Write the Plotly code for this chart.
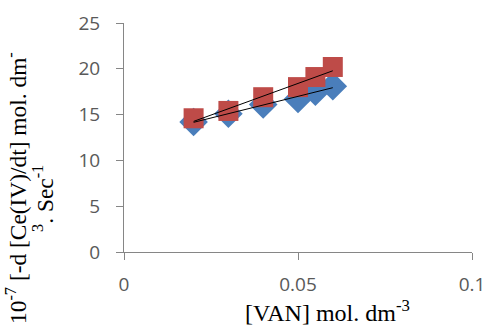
import numpy as np
import plotly.graph_objects as go

van = [0.02, 0.03, 0.04, 0.05, 0.055, 0.06]
rate_blue = [14.2, 15.1, 16.1, 16.7, 17.5, 18.1]
rate_red = [14.6, 15.4, 16.9, 18.0, 19.1, 20.2]
x_ticks = [0, 0.05, 0.1]
y_ticks = [0, 5, 10, 15, 20, 25]

fig = go.Figure()
fig.add_trace(go.Scatter(x=van, y=rate_blue, mode="markers",
                         marker=dict(symbol="diamond", size=22, color="#4A7EBB"),
                         showlegend=False))
fig.add_trace(go.Scatter(x=van, y=rate_red, mode="markers",
                         marker=dict(symbol="square", size=20, color="#BE4B48"),
                         showlegend=False))
for ys in (rate_blue, rate_red):
    m, c = np.polyfit(van, ys, 1)
    xs = [min(van), max(van)]
    fig.add_trace(go.Scatter(x=xs, y=[m * v + c for v in xs], mode="lines",
                             line=dict(color="black", width=1), showlegend=False))

axis_common = dict(showgrid=False, zeroline=False, showline=True, linecolor="#868686",
                   linewidth=1, ticks="outside", ticklen=7, tickcolor="#868686",
                   automargin=False,
                   tickfont=dict(family="Open Sans", size=19, color="#595959"))
fig.update_xaxes(range=[0, 0.1], tickvals=x_ticks, ticktext=["0", "0.05", "0.1"],
                 ticklabelstandoff=8, **axis_common)
fig.update_yaxes(range=[0, 25], tickvals=y_ticks, ticklabelstandoff=12, **axis_common)

L, R, T, B = 124, 18, 23, 73
pw, ph = 490 - L - R, 325 - T - B

def px(x):
    return (x - L) / pw

def py(y):
    return (325 - B - y) / ph

fig.add_annotation(text="[VAN] mol. dm<sup>-3</sup>",
                   xref="paper", yref="paper", x=px(327), y=py(311),
                   showarrow=False, xanchor="center", yanchor="middle",
                   font=dict(family="Liberation Serif", size=24, color="black"))
fig.add_annotation(text="10<sup>-7</sup> [-d [Ce(IV)/dt] mol. dm<sup>-</sup>",
                   xref="paper", yref="paper", x=px(16), y=py(188),
                   textangle=-90, showarrow=False, xanchor="center", yanchor="middle",
                   font=dict(family="Liberation Serif", size=23.4, color="black"))
fig.add_annotation(text="<sup>3</sup>. Sec<sup>-1</sup>",
                   xref="paper", yref="paper", x=px(43), y=py(199),
                   textangle=-90, showarrow=False, xanchor="center", yanchor="middle",
                   font=dict(family="Liberation Serif", size=23.4, color="black"))

fig.update_layout(width=490, height=325, margin=dict(l=L, r=R, t=T, b=B),
                  plot_bgcolor="white", paper_bgcolor="white")
fig.write_html("out.html")
